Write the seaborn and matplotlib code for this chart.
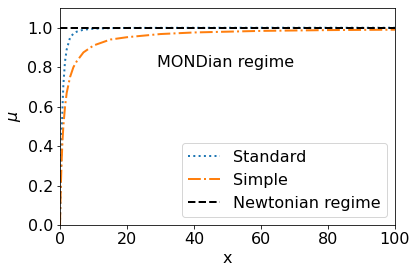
import numpy as np
import pandas as pd
import matplotlib
matplotlib.use('Agg')
import matplotlib.pyplot as plt
import seaborn as sns

# values
x_vals = [0, 0.1, 0.25, 0.5, 0.75, 1, 1.5, 2, 3, 4, 5, 7, 10, 15, 20,
          30, 40, 50, 60, 70, 80, 90, 100]
mu_standard = [0, 0.10, 0.24, 0.45, 0.60, 0.71, 0.83, 0.89, 0.95, 0.97,
               0.98, 0.99, 0.995, 0.998, 0.999, 0.9994, 0.9997, 0.9998,
               0.9999, 0.9999, 0.9999, 0.9999, 1.0]
mu_simple = [0, 0.09, 0.20, 0.33, 0.43, 0.50, 0.60, 0.67, 0.75, 0.80,
             0.83, 0.875, 0.91, 0.94, 0.952, 0.968, 0.976, 0.980, 0.984,
             0.986, 0.988, 0.989, 0.990]
newton_x = [0, 100]
newton_mu = [1.0, 1.0]

df = pd.DataFrame({'x': x_vals, 'standard': mu_standard, 'simple': mu_simple})
df_newton = pd.DataFrame({'x': newton_x, 'mu': newton_mu})

plt.rcParams['font.size'] = 16
fig, ax = plt.subplots(figsize=(416 / 72, 272 / 72), dpi=72)

sns.lineplot(x='x', y='standard', data=df, ax=ax, color='tab:blue',
             linestyle=':', linewidth=2, label='Standard')
sns.lineplot(x='x', y='simple', data=df, ax=ax, color='tab:orange',
             linestyle='-.', linewidth=2, label='Simple')
sns.lineplot(x='x', y='mu', data=df_newton, ax=ax, color='black',
             linestyle='--', linewidth=2, label='Newtonian regime')

ax.text(29, 0.8, 'MONDian regime')
ax.set_xlim(0, 100)
ax.set_ylim(0, 1.1)
ax.set_xlabel('x')
ax.set_ylabel(r'$\mu$')
ax.legend(loc='lower right')

fig.subplots_adjust(left=60 / 416, right=395 / 416, top=1 - 8 / 272,
                    bottom=1 - 225 / 272)
fig.savefig('out.png', dpi=72)
